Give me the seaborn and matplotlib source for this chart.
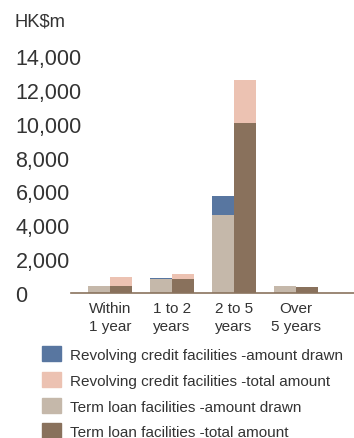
import pandas as pd
import matplotlib
matplotlib.use("Agg")
import matplotlib.pyplot as plt
import matplotlib.patches as mpatches
import seaborn as sns

# Data (HK$m)
categories = ["Within\n1 year", "1 to 2\nyears", "2 to 5\nyears", "Over\n5 years"]
term_drawn = [430, 850, 4600, 400]        # Term loan facilities - amount drawn
revolving_drawn = [0, 60, 1150, 20]       # Revolving credit facilities - amount drawn
term_total = [430, 830, 10050, 360]       # Term loan facilities - total amount
revolving_total = [520, 290, 2550, 20]    # Revolving credit facilities - total amount

legend_labels = [
    "Revolving credit facilities -amount drawn",
    "Revolving credit facilities -total amount",
    "Term loan facilities -amount drawn",
    "Term loan facilities -total amount",
]
c_blue, c_pink, c_beige, c_brown = "#5876a0", "#ecc2b2", "#c5b8aa", "#89715c"

# long tables: upper layer is the cumulative top, lower layer the term loan part
rows_top, rows_low = [], []
for i, cat in enumerate(categories):
    rows_top.append({"cat": cat, "kind": "drawn", "val": term_drawn[i] + revolving_drawn[i]})
    rows_top.append({"cat": cat, "kind": "total", "val": term_total[i] + revolving_total[i]})
    rows_low.append({"cat": cat, "kind": "drawn", "val": term_drawn[i]})
    rows_low.append({"cat": cat, "kind": "total", "val": term_total[i]})
df_top = pd.DataFrame(rows_top)
df_low = pd.DataFrame(rows_low)

sns.set_theme(style="white")
plt.rcParams["font.family"] = ["Liberation Sans", "DejaVu Sans"]

fig = plt.figure(figsize=(3.54, 4.39), dpi=100)
ax = fig.add_axes([71 / 354, (439 - 294) / 439, 283 / 354, (294 - 57) / 439])

sns.barplot(data=df_top, x="cat", y="val", hue="kind", order=categories,
            hue_order=["drawn", "total"], palette={"drawn": c_blue, "total": c_pink},
            width=0.72, gap=0, legend=False, ax=ax, linewidth=0, saturation=1)
sns.barplot(data=df_low, x="cat", y="val", hue="kind", order=categories,
            hue_order=["drawn", "total"], palette={"drawn": c_beige, "total": c_brown},
            width=0.72, gap=0, legend=False, ax=ax, linewidth=0, saturation=1)

ax.set_xlim(-0.63, 3.935)
ax.set_ylim(0, 14000)
ax.set_yticks(range(0, 14001, 2000))
ax.set_yticklabels([f"{v:,}" for v in range(0, 14001, 2000)], fontsize=15.5, color="#333333", ha="left")
ax.tick_params(axis="y", length=0, pad=40)
ax.tick_params(axis="x", length=0, pad=6, labelsize=11, colors="#333333")
ax.set_xlabel("")
ax.set_ylabel("")
for s in ["top", "left", "right"]:
    ax.spines[s].set_visible(False)
ax.spines["bottom"].set_color("#8a735e")
ax.spines["bottom"].set_linewidth(1.2)
for lab in ax.get_xticklabels():
    lab.set_linespacing(1.3)

fig.text(15 / 354, 1 - 22 / 439, "HK$m", fontsize=13.2, color="#333333", va="center", ha="left")

handles = [mpatches.Patch(color=c) for c in [c_blue, c_pink, c_beige, c_brown]]
fig.legend(handles, legend_labels, loc="upper left", bbox_to_anchor=(42 / 354, 1 - 347 / 439),
           frameon=False, fontsize=11, labelcolor="#333333", handlelength=1.24, handleheight=1.18,
           handletextpad=0.6, labelspacing=0.65, borderaxespad=0, borderpad=0)

fig.savefig("out.png", dpi=100)
